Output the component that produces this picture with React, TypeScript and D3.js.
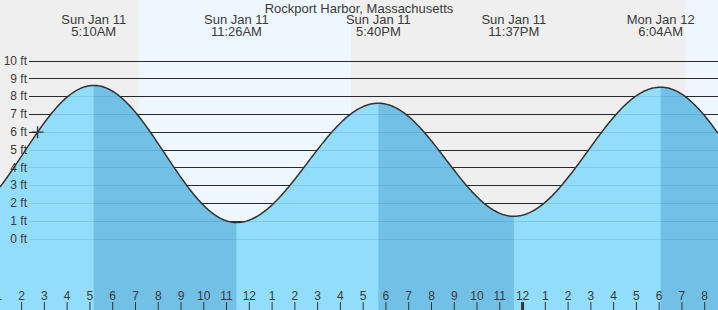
import React from "react";
import * as d3 from "d3";

const W = 718;
const H = 310;

const title = "Rockport Harbor, Massachusetts";
// tide extremes (UTC used as local station time)
const tideTimes = [
  "2026-01-10T23:00:00Z",
  "2026-01-11T05:10:00Z",
  "2026-01-11T11:26:00Z",
  "2026-01-11T17:40:00Z",
  "2026-01-11T23:37:00Z",
  "2026-01-12T06:04:00Z",
  "2026-01-12T12:30:00Z",
];
const tideHeights = [1.0, 8.6, 0.9, 7.6, 1.25, 8.5, 0.7];
// sunrise, sunset, sunrise
const sunEvents = ["2026-01-11T07:09:00Z", "2026-01-11T16:28:00Z", "2026-01-12T07:10:00Z"];
const heightTicks = [0, 1, 2, 3, 4, 5, 6, 7, 8, 9, 10];
const chartStart = "2026-01-11T01:03:00Z";
const chartEnd = "2026-01-12T08:35:00Z";
const nowTime = "2026-01-11T02:42:00Z";

const FONT = "'Liberation Sans', Arial, sans-serif";
const TEXT = "#3a3a3a";
const NIGHT = "#efefef";
const DAY = "#eef7ff";
const WATER = "#92dcfc";
const WATER_DARK = "#72c0e5";

export default function App() {
  const t0 = new Date(chartStart);
  const t1 = new Date(chartEnd);
  const x = d3.scaleUtc().domain([t0, t1]).range([0, W]);
  const y = d3.scaleLinear().domain([0, 10]).range([238.5, 60.5]);

  const ext = tideTimes.map((s, i) => ({ t: new Date(s), h: tideHeights[i] }));

  const tideAt = (t: Date) => {
    const ms = t.getTime();
    for (let i = 0; i < ext.length - 1; i++) {
      const a = ext[i], b = ext[i + 1];
      if (ms >= a.t.getTime() && ms <= b.t.getTime()) {
        const f = (ms - a.t.getTime()) / (b.t.getTime() - a.t.getTime());
        return a.h + (b.h - a.h) * (1 - Math.cos(Math.PI * f)) / 2;
      }
    }
    return ext[ext.length - 1].h;
  };

  const samples = d3.range(0, W + 1, 1).map((px) => {
    const t = x.invert(px);
    return { t, h: tideAt(t) };
  });

  const area = d3
    .area<{ t: Date; h: number }>()
    .x((d) => x(d.t))
    .y0(H)
    .y1((d) => y(d.h));
  const line = d3
    .line<{ t: Date; h: number }>()
    .x((d) => x(d.t))
    .y((d) => y(d.h));

  // day / night intervals
  const sun = sunEvents.map((s) => new Date(s));
  const bounds = [t0, ...sun, t1];
  const bgs = d3.range(bounds.length - 1).map((i) => ({
    a: bounds[i],
    b: bounds[i + 1],
    night: i % 2 === 0,
  }));

  // falling tide intervals (high -> next low)
  const falling: { a: Date; b: Date }[] = [];
  for (let i = 0; i < ext.length - 1; i++) {
    if (ext[i].h > ext[i + 1].h) falling.push({ a: ext[i].t, b: ext[i + 1].t });
  }

  const hourTicks = d3.utcHour.range(d3.utcHour.floor(t0), t1);
  const hourFmt = d3.utcFormat("%-I");
  const dayFmt = d3.utcFormat("%a %b %-d");
  const timeFmt = d3.utcFormat("%-I:%M%p");

  const visibleExt = ext.filter((e) => e.t >= t0 && e.t <= t1);
  const now = new Date(nowTime);
  const nx = x(now);
  const ny = y(tideAt(now));

  const gy = (v: number) => Math.round(y(v)) + 0.5;

  return (
    <svg
      width={W}
      height={H}
      style={{ position: "absolute", left: 0, top: 0, display: "block" }}
      fontFamily={FONT}
    >
      <defs>
        <clipPath id="water">
          <path d={area(samples) || ""} />
        </clipPath>
      </defs>
      {bgs.map((d, i) => (
        <rect
          key={i}
          x={x(d.a)}
          y={0}
          width={x(d.b) - x(d.a)}
          height={H}
          fill={d.night ? NIGHT : DAY}
        />
      ))}
      {heightTicks.map((v) => (
        <line key={v} x1={29} x2={W} y1={gy(v)} y2={gy(v)} stroke="#2a2a2a" strokeWidth={1} />
      ))}
      <path d={area(samples) || ""} fill={WATER} />
      <g clipPath="url(#water)">
        {falling.map((d, i) => (
          <rect key={i} x={x(d.a)} y={0} width={x(d.b) - x(d.a)} height={H} fill={WATER_DARK} />
        ))}
        {heightTicks.map((v) => (
          <line
            key={v}
            x1={29}
            x2={W}
            y1={gy(v)}
            y2={gy(v)}
            stroke="rgba(0,70,130,0.13)"
            strokeWidth={1}
          />
        ))}
      </g>
      <path d={line(samples) || ""} fill="none" stroke="#333" strokeWidth={1.5} />
      <path
        d={`M${nx - 6},${ny}H${nx + 6}M${nx},${ny - 6}V${ny + 6}`}
        stroke="#333"
        strokeWidth={1.3}
        fill="none"
      />
      {heightTicks.map((v) => (
        <text
          key={v}
          x={27}
          y={y(v) + 4.3}
          textAnchor="end"
          fontSize={12}
          fill={TEXT}
        >
          {`${v} ft`}
        </text>
      ))}
      {hourTicks.map((t, i) => {
        const isMid = t.getUTCHours() === 0;
        return (
          <g key={i}>
            <line
              x1={x(t)}
              x2={x(t)}
              y1={302}
              y2={H}
              stroke="#333"
              strokeWidth={isMid ? 3 : 1}
            />
            <text x={x(t)} y={300} textAnchor="middle" fontSize={12} fill={TEXT}>
              {hourFmt(t)}
            </text>
          </g>
        );
      })}
      <text x={W / 2} y={12.5} textAnchor="middle" fontSize={13} fill={TEXT}>
        {title}
      </text>
      {visibleExt.map((e, i) => (
        <g key={i}>
          <text x={x(e.t)} y={24.3} textAnchor="middle" fontSize={13} fill={TEXT}>
            {dayFmt(e.t)}
          </text>
          <text x={x(e.t)} y={36} textAnchor="middle" fontSize={13} fill={TEXT}>
            {timeFmt(e.t)}
          </text>
        </g>
      ))}
    </svg>
  );
}
